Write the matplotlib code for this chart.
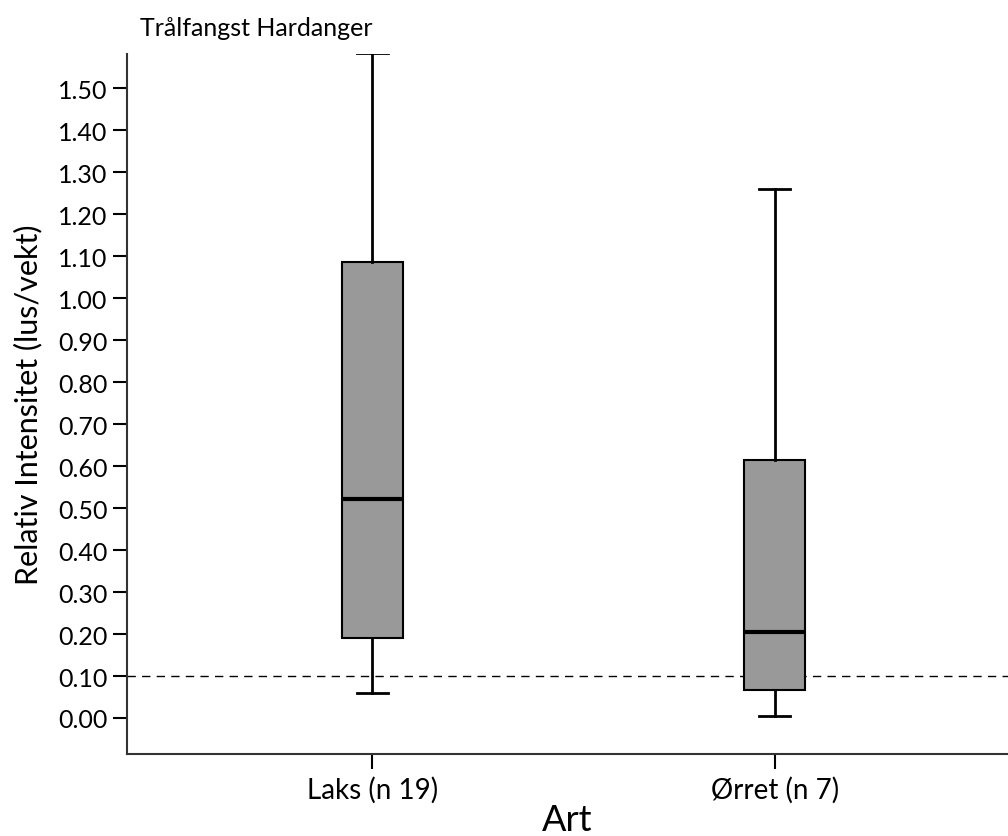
import numpy as np
import matplotlib.pyplot as plt
from matplotlib.ticker import FormatStrFormatter

plt.rcParams['font.family'] = ['Lato', 'DejaVu Sans']

# five-number summaries per species
arter = ["Laks (n 19)", "Ørret (n 7)"]
nedre = [0.060, 0.005]
q1 = [0.190, 0.067]
median = [0.521, 0.205]
q3 = [1.086, 0.614]
ovre = [1.583, 1.260]
grense = 0.10

stats = []
for i in range(len(arter)):
    stats.append(dict(label=arter[i], whislo=nedre[i], q1=q1[i], med=median[i],
                      q3=q3[i], whishi=ovre[i], fliers=[]))

fig = plt.figure(figsize=(10.08, 8.37), dpi=100)
ax = fig.add_axes([0.126, 0.098, 0.874, 0.836])

ax.bxp(stats, positions=[1, 2], widths=0.152, patch_artist=True, showfliers=False,
       boxprops=dict(facecolor="#999999", edgecolor="black", linewidth=1.5),
       medianprops=dict(color="black", linewidth=3),
       whiskerprops=dict(color="black", linewidth=2),
       capprops=dict(color="black", linewidth=2),
       capwidths=0.078)

# dashed reference level
ax.axhline(grense, color="black", linestyle=(0, (6, 4.5)), linewidth=1, zorder=0.5)

ax.set_xlim(0.39, 2.58)
ax.set_ylim(-0.0857, 1.581)
ax.set_yticks(np.arange(0, 1.51, 0.1))
ax.yaxis.set_major_formatter(FormatStrFormatter('%.2f'))

for s in ["top", "right"]:
    ax.spines[s].set_visible(False)
for s in ["left", "bottom"]:
    ax.spines[s].set_color("#333333")
    ax.spines[s].set_linewidth(1.5)

ax.tick_params(axis="y", length=10, width=1.5, labelsize=18, pad=4)
ax.tick_params(axis="x", length=11, width=1.5, labelsize=20, pad=5)

ax.set_ylabel("Relativ Intensitet (lus/vekt)", fontsize=22, labelpad=11)
ax.set_xlabel("Art", fontsize=26, labelpad=0)
fig.text(0.139, 0.966, "Trålfangst Hardanger", fontsize=18, ha="left", va="center")

fig.savefig("out.png", dpi=100)
